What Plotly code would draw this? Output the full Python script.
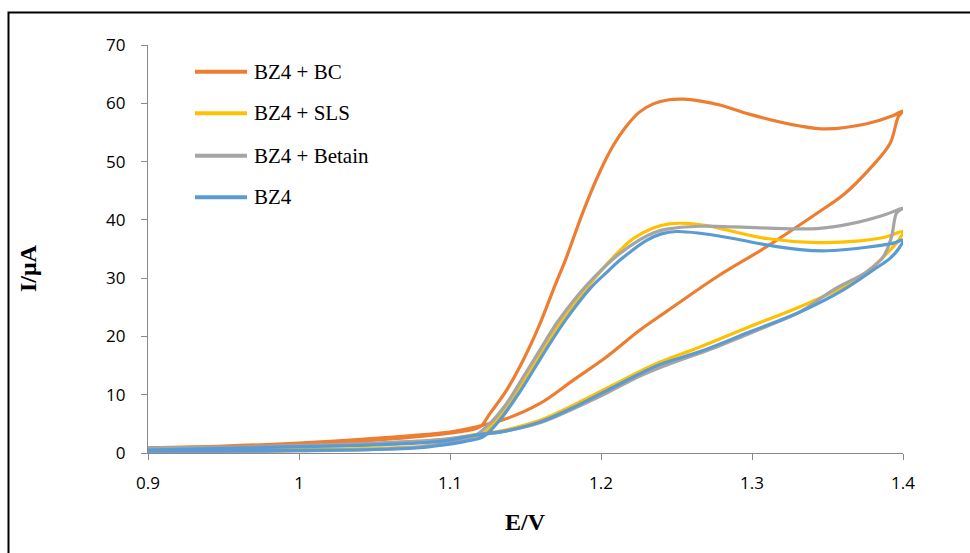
import plotly.graph_objects as go

# ---------------- data (E in V, I in µA) ----------------
names = ["BZ4 + BC", "BZ4 + SLS", "BZ4 + Betain", "BZ4"]
colors = ["#ED7D31", "#FFC000", "#A5A5A5", "#5B9BD5"]

bc_E = [0.9, 0.95, 1.0, 1.05, 1.09, 1.11, 1.12, 1.1265, 1.1375, 1.1486, 1.1596, 1.1684,
        1.1773, 1.1883, 1.1993, 1.2082, 1.216, 1.225, 1.2346, 1.245, 1.255, 1.265, 1.2788,
        1.2987, 1.3318, 1.3494, 1.376, 1.3936, 1.4,
        1.3969, 1.3914, 1.3781, 1.3605, 1.3428, 1.3097, 1.2766, 1.2435, 1.2258, 1.2038,
        1.1817, 1.1596, 1.1375, 1.1177, 1.1066, 1.0934, 1.05, 1.0, 0.95, 0.9]
bc_I = [0.6, 0.9, 1.4, 2.2, 3.1, 3.8, 4.5, 6.8, 10.8, 16.0, 22.2, 28.0,
        33.7, 41.5, 48.3, 52.8, 55.8, 58.4, 59.9, 60.6, 60.7, 60.4, 59.7,
        58.1, 56.1, 55.6, 56.5, 57.9, 58.7,
        57.7, 53.1, 48.8, 44.3, 41.1, 35.4, 30.2, 24.3, 21.1, 16.5,
        12.5, 8.5, 5.9, 4.5, 3.9, 3.4, 2.5, 1.7, 1.2, 0.9]

sls_E = [0.9, 0.95, 1.0, 1.05, 1.08, 1.0934, 1.11, 1.12, 1.131, 1.142, 1.153, 1.164,
         1.175, 1.1905, 1.2082, 1.2214, 1.2346, 1.245, 1.256, 1.27, 1.2876, 1.3097, 1.3428,
         1.3715, 1.3892, 1.4,
         1.397, 1.3914, 1.3803, 1.3649, 1.3318, 1.2987, 1.2656, 1.2391, 1.2258, 1.2038,
         1.1817, 1.1596, 1.1375, 1.1154, 1.0934, 1.05, 1.0, 0.95, 0.9]
sls_I = [0.4, 0.45, 0.6, 0.8, 1.1, 1.5, 2.2, 2.9, 5.7, 9.7, 14.2, 18.8,
         23.1, 28.3, 33.6, 36.8, 38.6, 39.3, 39.4, 39.0, 38.0, 36.8, 36.1,
         36.4, 37.1, 38.0,
         36.5, 34.8, 32.0, 29.1, 25.1, 21.7, 18.2, 15.6, 14.0, 11.1,
         8.2, 5.6, 4.0, 3.1, 2.2, 1.5, 1.1, 0.8, 0.6]

bet_E = [0.9, 0.95, 1.0, 1.05, 1.08, 1.1, 1.1154, 1.1265, 1.1375, 1.1486, 1.1596, 1.1707,
         1.1839, 1.1949, 1.2104, 1.2258, 1.235, 1.2435, 1.2656, 1.2876, 1.3207, 1.3428,
         1.3649, 1.387, 1.4,
         1.3958, 1.3924, 1.387, 1.376, 1.3539, 1.3318, 1.3097, 1.2766, 1.2435, 1.2258,
         1.2038, 1.1817, 1.1596, 1.1375, 1.1154, 1.0934, 1.05, 1.0, 0.95, 0.9]
bet_I = [0.1, 0.2, 0.35, 0.6, 1.0, 1.8, 2.8, 5.1, 8.5, 13.1, 17.7, 22.3,
         26.8, 30.0, 33.8, 36.6, 37.8, 38.4, 38.9, 38.8, 38.5, 38.5,
         39.3, 40.8, 42.0,
         41.2, 37.1, 33.7, 31.1, 28.0, 24.2, 21.7, 18.2, 15.1, 13.2,
         10.3, 7.6, 5.2, 3.8, 3.0, 2.3, 1.7, 1.3, 1.0, 0.9]

bz4_E = [0.9, 0.95, 1.0, 1.05, 1.08, 1.0934, 1.11, 1.1221, 1.1331, 1.1442, 1.1552, 1.1662,
         1.1773, 1.1927, 1.2038, 1.2126, 1.2302, 1.24, 1.25, 1.2656, 1.2876, 1.3097, 1.3318,
         1.3494, 1.376, 1.3936, 1.4,
         1.397, 1.3914, 1.3803, 1.3605, 1.3318, 1.2987, 1.2656, 1.2391, 1.2258, 1.2038,
         1.1817, 1.1596, 1.1375, 1.1154, 1.0934, 1.05, 1.0, 0.95, 0.9]
bz4_I = [0.3, 0.35, 0.45, 0.6, 0.9, 1.3, 2.0, 2.8, 5.7, 9.7, 14.2, 18.8,
         23.1, 28.2, 31.0, 33.1, 36.5, 37.6, 38.0, 37.7, 36.8, 35.7, 34.9,
         34.7, 35.3, 36.0, 36.5,
         35.0, 33.4, 31.4, 28.0, 24.2, 20.8, 17.4, 15.2, 13.6, 10.7,
         7.8, 5.3, 3.8, 3.0, 2.0, 1.4, 1.1, 0.8, 0.5]

x_ticks = [0.9, 1.0, 1.1, 1.2, 1.3, 1.4]
x_tick_labels = ["0.9", "1", "1.1", "1.2", "1.3", "1.4"]
y_ticks = [0, 10, 20, 30, 40, 50, 60, 70]

series_E = [bc_E, sls_E, bet_E, bz4_E]
series_I = [bc_I, sls_I, bet_I, bz4_I]

# ---------------- figure ----------------
fig = go.Figure()
for name, color, E, I in zip(names, colors, series_E, series_I):
    fig.add_trace(go.Scatter(
        x=E, y=I, mode="lines", name=name,
        line=dict(color=color, width=3.2, shape="spline", smoothing=1.0),
        showlegend=False,
    ))

axis_col = "#898989"
tick_font = dict(family="Open Sans, DejaVu Sans, sans-serif", size=17, color="#000000")

fig.update_xaxes(
    range=[0.9, 1.4], tickvals=x_ticks, ticktext=x_tick_labels,
    showgrid=False, zeroline=False, showline=True, linecolor=axis_col, linewidth=1.3,
    ticks="outside", ticklen=6, tickcolor=axis_col, tickwidth=1.3,
    tickfont=tick_font, ticklabelstandoff=8,
)
fig.update_yaxes(
    range=[0, 70], tickvals=y_ticks,
    showgrid=False, zeroline=False, showline=True, linecolor=axis_col, linewidth=1.3,
    ticks="outside", ticklen=6, tickcolor=axis_col, tickwidth=1.3,
    tickfont=tick_font, ticklabelstandoff=12,
)

# plot area in pixels: x 148..903, y 45..453
L, R, T, B = 148, 67, 45, 100
W, H = 970, 553
pw, ph = W - L - R, H - T - B

def px_x(p):
    return (p - L) / pw

def px_y(p):
    return (H - B - p) / ph

shapes = []
annotations = []

serif = "Liberation Serif"

# custom legend (top-left inside the plot)
leg_rows = [71.7, 113.3, 155.7, 197.3]
for name, color, row in zip(names, colors, leg_rows):
    shapes.append(dict(type="line", xref="paper", yref="paper",
                       x0=px_x(195), x1=px_x(247), y0=px_y(row), y1=px_y(row),
                       line=dict(color=color, width=4)))
    annotations.append(dict(text=name, xref="paper", yref="paper",
                            x=px_x(252), y=px_y(row), xanchor="left", yanchor="middle",
                            showarrow=False,
                            font=dict(family=serif, size=21, color="#000000")))

# axis titles
title_font = dict(family=serif, size=24, color="#000000")
annotations.append(dict(text="<b>E/V</b>", xref="paper", yref="paper",
                        x=px_x(525), y=px_y(522), xanchor="center", yanchor="middle",
                        showarrow=False, font=title_font))
annotations.append(dict(text="<b>I/μA</b>", xref="paper", yref="paper",
                        x=px_x(28), y=px_y(268), xanchor="center", yanchor="middle",
                        textangle=-90, showarrow=False, font=title_font))

# outer frame of the chart
shapes.append(dict(type="rect", xref="paper", yref="paper",
                   x0=px_x(8.5), x1=px_x(990), y0=px_y(580), y1=px_y(12.5),
                   line=dict(color="#000000", width=2), fillcolor="rgba(0,0,0,0)",
                   layer="above"))

fig.update_layout(
    width=W, height=H,
    margin=dict(l=L, r=R, t=T, b=B),
    paper_bgcolor="white", plot_bgcolor="white",
    shapes=shapes, annotations=annotations,
    showlegend=False,
)

fig.write_html("out.html")
